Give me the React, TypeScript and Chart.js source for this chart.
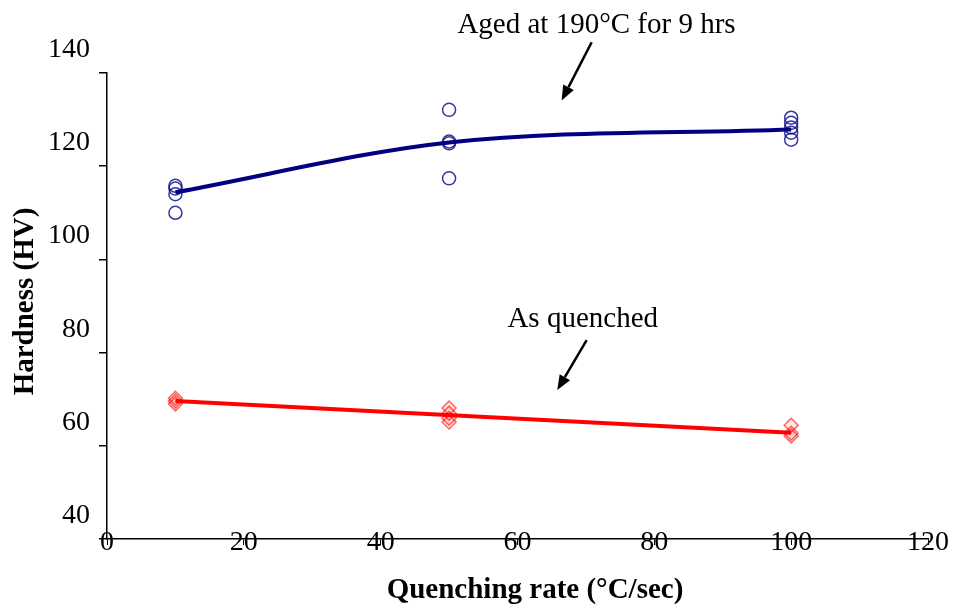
import React, { useEffect, useRef } from 'react';
import { Chart, registerables } from 'chart.js';

Chart.register(...registerables);

// ---- data ----
const xTicks = [0, 20, 40, 60, 80, 100, 120];
const yTicks = [40, 60, 80, 100, 120, 140];

const agedX = [10, 10, 10, 10, 50, 50, 50, 50, 100, 100, 100, 100, 100];
const agedY = [115.8, 115.2, 114.0, 110.0, 132.1, 125.3, 124.9, 117.4, 130.4, 129.3, 128.3, 127.2, 125.7];
const agedTrendX = [10, 50, 100];
const agedTrendY = [114.4, 125.1, 127.9];

const quenchX = [10, 10, 10, 50, 50, 50, 50, 100, 100, 100];
const quenchY = [70.2, 69.6, 69.0, 68.1, 67.0, 65.9, 65.1, 64.4, 62.7, 62.1];
const quenchTrendX = [10, 100];
const quenchTrendY = [69.6, 62.8];

const xTitle = 'Quenching rate (°C/sec)';
const yTitle = 'Hardness (HV)';
const agedLabel = 'Aged at 190°C for 9 hrs';
const quenchLabel = 'As quenched';

// annotation anchors in data coordinates
const agedNote = { x: 71.55, y: 148.5 };
const agedArrow = { x1: 70.84, y1: 146.6, x2: 66.45, y2: 134.1 };
const quenchNote = { x: 69.53, y: 85.5 };
const quenchArrow = { x1: 70.11, y1: 82.7, x2: 65.81, y2: 71.95 };

const SERIF = "'Liberation Serif', 'Times New Roman', serif";

function pts(xs: number[], ys: number[]) {
  return xs.map((x, i) => ({ x, y: ys[i] }));
}

const textPlugin = {
  id: 'customText',
  afterDraw(chart: any) {
    const ctx = chart.ctx as CanvasRenderingContext2D;
    const xs = chart.scales.x;
    const ys = chart.scales.y;
    const area = chart.chartArea;
    ctx.save();
    ctx.fillStyle = '#000';
    // y tick labels
    ctx.font = `28px ${SERIF}`;
    ctx.textAlign = 'right';
    ctx.textBaseline = 'alphabetic';
    yTicks.forEach((v) => {
      ctx.fillText(String(v), area.left - 17, ys.getPixelForValue(v) - 16);
    });
    // x tick labels
    ctx.textAlign = 'center';
    xTicks.forEach((v) => {
      ctx.fillText(String(v), xs.getPixelForValue(v), area.bottom + 11);
    });
    // axis titles
    ctx.font = `bold 29px ${SERIF}`;
    ctx.fillText(xTitle, 535, 598);
    ctx.save();
    ctx.translate(33, 301.5);
    ctx.rotate(-Math.PI / 2);
    ctx.textAlign = 'center';
    ctx.fillText(yTitle, 0, 0);
    ctx.restore();
    // annotations
    ctx.font = `29px ${SERIF}`;
    ctx.textAlign = 'center';
    ctx.fillText(agedLabel, xs.getPixelForValue(agedNote.x), ys.getPixelForValue(agedNote.y));
    ctx.fillText(quenchLabel, xs.getPixelForValue(quenchNote.x), ys.getPixelForValue(quenchNote.y));
    const arrow = (a: { x1: number; y1: number; x2: number; y2: number }) => {
      const x1 = xs.getPixelForValue(a.x1);
      const y1 = ys.getPixelForValue(a.y1);
      const x2 = xs.getPixelForValue(a.x2);
      const y2 = ys.getPixelForValue(a.y2);
      const ang = Math.atan2(y2 - y1, x2 - x1);
      const hl = 15;
      const hw = 6;
      const bx = x2 - hl * Math.cos(ang);
      const by = y2 - hl * Math.sin(ang);
      ctx.strokeStyle = '#000';
      ctx.lineWidth = 2.5;
      ctx.beginPath();
      ctx.moveTo(x1, y1);
      ctx.lineTo(bx, by);
      ctx.stroke();
      ctx.beginPath();
      ctx.moveTo(x2, y2);
      ctx.lineTo(bx + hw * Math.sin(ang), by - hw * Math.cos(ang));
      ctx.lineTo(bx - hw * Math.sin(ang), by + hw * Math.cos(ang));
      ctx.closePath();
      ctx.fill();
    };
    arrow(agedArrow);
    arrow(quenchArrow);
    ctx.restore();
  },
};

export default function App() {
  const ref = useRef<HTMLCanvasElement | null>(null);
  useEffect(() => {
    if (!ref.current) return;
    const chart = new Chart(ref.current, {
      type: 'scatter',
      data: {
        datasets: [
          {
            label: 'Aged trend',
            data: pts(agedTrendX, agedTrendY),
            showLine: true,
            borderColor: '#000080',
            borderWidth: 4,
            pointRadius: 0,
            cubicInterpolationMode: 'monotone',
            fill: false,
          } as any,
          {
            label: 'As quenched trend',
            data: pts(quenchTrendX, quenchTrendY),
            showLine: true,
            borderColor: '#ff0000',
            borderWidth: 4,
            pointRadius: 0,
            fill: false,
          } as any,
          {
            label: 'Aged at 190°C for 9 hrs',
            data: pts(agedX, agedY),
            pointStyle: 'circle',
            pointRadius: 6.5,
            pointBorderWidth: 1.5,
            pointBorderColor: 'rgba(20,20,140,0.85)',
            pointBackgroundColor: 'rgba(0,0,0,0)',
            borderColor: 'rgba(20,20,140,0.85)',
            backgroundColor: 'rgba(0,0,0,0)',
          } as any,
          {
            label: 'As quenched',
            data: pts(quenchX, quenchY),
            pointStyle: 'rectRot',
            pointRadius: 7,
            pointBorderWidth: 1.5,
            pointBorderColor: 'rgba(255,0,0,0.6)',
            pointBackgroundColor: 'rgba(255,0,0,0.1)',
            borderColor: 'rgba(255,0,0,0.6)',
            backgroundColor: 'rgba(255,0,0,0.1)',
          } as any,
        ],
      },
      options: {
        animation: false,
        responsive: false,
        maintainAspectRatio: false,
        layout: { padding: { top: 73, right: 28, left: 0, bottom: 0 } },
        plugins: {
          legend: { display: false },
          tooltip: { enabled: false },
          title: { display: false },
        },
        scales: {
          x: {
            type: 'linear',
            min: 0,
            max: 120,
            ticks: { display: false, stepSize: 20 },
            grid: { display: true, drawOnChartArea: false, drawTicks: true, tickLength: 6, color: '#000', lineWidth: 1 },
            border: { display: true, color: '#000', width: 1.5 },
            afterFit: (s: any) => { s.height = 71; },
          },
          y: {
            type: 'linear',
            min: 40,
            max: 140,
            ticks: { display: false, stepSize: 20 },
            grid: { display: true, drawOnChartArea: false, drawTicks: true, tickLength: 8, color: '#000', lineWidth: 1.5 },
            border: { display: true, color: '#000', width: 1.5 },
            afterFit: (s: any) => { s.width = 107; },
          },
        },
      },
      plugins: [textPlugin],
    });
    return () => chart.destroy();
  }, []);
  return (
    <div style={{ position: 'fixed', left: 0, top: 0, width: 956, height: 610, background: '#fff' }}>
      <canvas ref={ref} width={956} height={610} style={{ width: 956, height: 610, display: 'block' }} />
    </div>
  );
}
